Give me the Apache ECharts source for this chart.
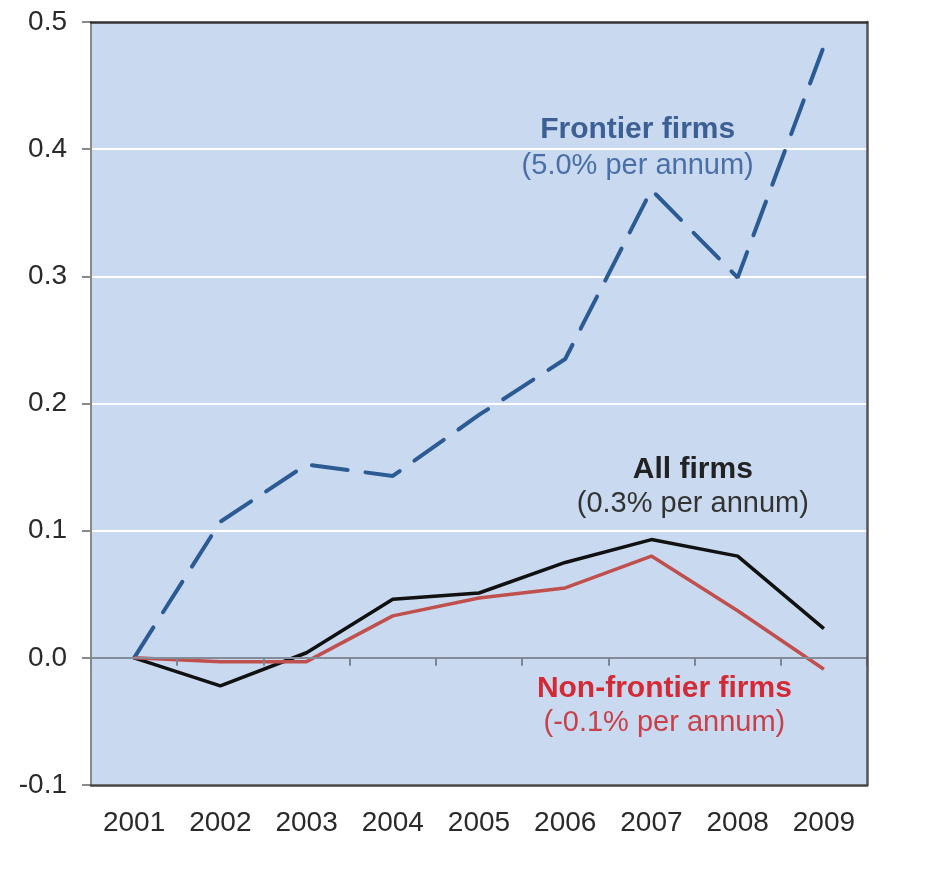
<!DOCTYPE html>
<html>
<head>
<meta charset="utf-8">
<script src="https://cdn.jsdelivr.net/npm/echarts@6/dist/echarts.min.js"></script>
<style>
html,body{margin:0;padding:0;background:#fff;}
#chart{width:926px;height:882px;}
</style>
</head>
<body>
<div id="chart"></div>
<script>
// ---- data ----
var years = ['2001','2002','2003','2004','2005','2006','2007','2008','2009'];
var frontierFirms = [0.000, 0.107, 0.152, 0.143, 0.191, 0.235, 0.368, 0.299, 0.481];
var allFirms = [0.000, -0.022, 0.004, 0.046, 0.051, 0.075, 0.093, 0.080, 0.023];
var nonFrontierFirms = [0.000, -0.003, -0.003, 0.033, 0.047, 0.055, 0.080, 0.037, -0.009];
var yTicks = { min: -0.1, max: 0.5, step: 0.1 };
// annotation texts with anchor in data space (fractional category index, value)
var annTitles = ['Frontier firms', 'All firms', 'Non-frontier firms'];
var annSubs = ['(5.0% per annum)', '(0.3% per annum)', '(-0.1% per annum)'];
var annAnchorIdx = [5.84, 6.48, 6.15];
var annTitleVal = [0.415, 0.148, -0.024];
var annSubVal = [0.387, 0.121, -0.051];

var annTitleColors = ['#3d5f94', '#222222', '#d42a35'];
var annSubColors = ['#4a6fa6', '#333333', '#c8404a'];

var chart = echarts.init(document.getElementById('chart'), null, {renderer: 'canvas'});
var FONT = '"Liberation Sans", Arial, sans-serif';

var option = {
  animation: false,
  backgroundColor: '#ffffff',
  grid: {
    show: true, left: 91, right: 59, top: 22, bottom: 97,
    backgroundColor: '#c9daf0', borderWidth: 0
  },
  xAxis: [
    {
      type: 'category', data: years, position: 'bottom', boundaryGap: true, z: 5,
      axisLine: { show: true, onZero: false, lineStyle: { color: '#444', width: 2.5 } },
      axisTick: { show: false },
      axisLabel: { show: true, fontSize: 28, color: '#2a2a2a', margin: 24, fontFamily: FONT },
      splitLine: { show: false }
    },
    {
      type: 'category', data: years, position: 'bottom', boundaryGap: true, z: 4,
      axisLine: { show: true, onZero: true, lineStyle: { color: '#838c98', width: 2 } },
      axisTick: { show: true, inside: false, length: 8, lineStyle: { color: '#7d8692', width: 2 } },
      axisLabel: { show: false },
      splitLine: { show: false }
    },
    {
      type: 'category', data: years, position: 'top', boundaryGap: true, z: 5,
      axisLine: { show: true, onZero: false, lineStyle: { color: '#333', width: 2.5 } },
      axisTick: { show: false },
      axisLabel: { show: false },
      splitLine: { show: false }
    }
  ],
  yAxis: [
    {
      type: 'value', min: yTicks.min, max: yTicks.max, interval: yTicks.step, position: 'left',
      axisLine: { show: true, onZero: false, lineStyle: { color: '#8a8a8a', width: 2 } },
      axisTick: { show: true, inside: false, length: 9, lineStyle: { color: '#8a8a8a', width: 2 } },
      axisLabel: {
        fontSize: 28, color: '#2a2a2a', margin: 24, fontFamily: FONT,
        formatter: function (v) { return v.toFixed(1); }
      },
      splitLine: { show: true, lineStyle: { color: '#ffffff', width: 2 } }
    },
    {
      type: 'value', min: yTicks.min, max: yTicks.max, interval: yTicks.step, position: 'right', z: 5,
      axisLine: { show: true, onZero: false, lineStyle: { color: '#555', width: 2.5 } },
      axisTick: { show: false },
      axisLabel: { show: false },
      splitLine: { show: false }
    }
  ],
  series: [
    {
      name: 'Frontier firms', type: 'line', data: frontierFirms, xAxisIndex: 0, yAxisIndex: 0,
      symbol: 'none', z: 3,
      lineStyle: { color: '#2c5b94', width: 4, type: [36, 18], cap: 'round' }
    },
    {
      name: 'All firms', type: 'line', data: allFirms, xAxisIndex: 0, yAxisIndex: 0,
      symbol: 'none', z: 3,
      lineStyle: { color: '#111111', width: 3.5 }
    },
    {
      name: 'Non-frontier firms', type: 'line', data: nonFrontierFirms, xAxisIndex: 0, yAxisIndex: 0,
      symbol: 'none', z: 3,
      lineStyle: { color: '#c0504d', width: 3.5 }
    }
  ]
};
chart.setOption(option);

// convert a fractional category index + value to pixels via the axes
function toPixel(idx, val) {
  var i0 = Math.floor(idx), i1 = Math.min(i0 + 1, years.length - 1);
  var p0 = chart.convertToPixel({ xAxisIndex: 0, yAxisIndex: 0 }, [years[i0], val]);
  var p1 = chart.convertToPixel({ xAxisIndex: 0, yAxisIndex: 0 }, [years[i1], val]);
  var f = idx - i0;
  return [p0[0] + (p1[0] - p0[0]) * f, p0[1]];
}

var graphics = [];
for (var i = 0; i < annTitles.length; i++) {
  var pT = toPixel(annAnchorIdx[i], annTitleVal[i]);
  var pS = toPixel(annAnchorIdx[i], annSubVal[i]);
  graphics.push({
    type: 'text', x: pT[0], y: pT[1], z: 10,
    style: { text: annTitles[i], fill: annTitleColors[i], font: 'bold 30px ' + FONT, textAlign: 'center', textVerticalAlign: 'middle' }
  });
  graphics.push({
    type: 'text', x: pS[0], y: pS[1], z: 10,
    style: { text: annSubs[i], fill: annSubColors[i], font: '29px ' + FONT, textAlign: 'center', textVerticalAlign: 'middle' }
  });
}
chart.setOption({ graphic: graphics });
</script>
</body>
</html>
